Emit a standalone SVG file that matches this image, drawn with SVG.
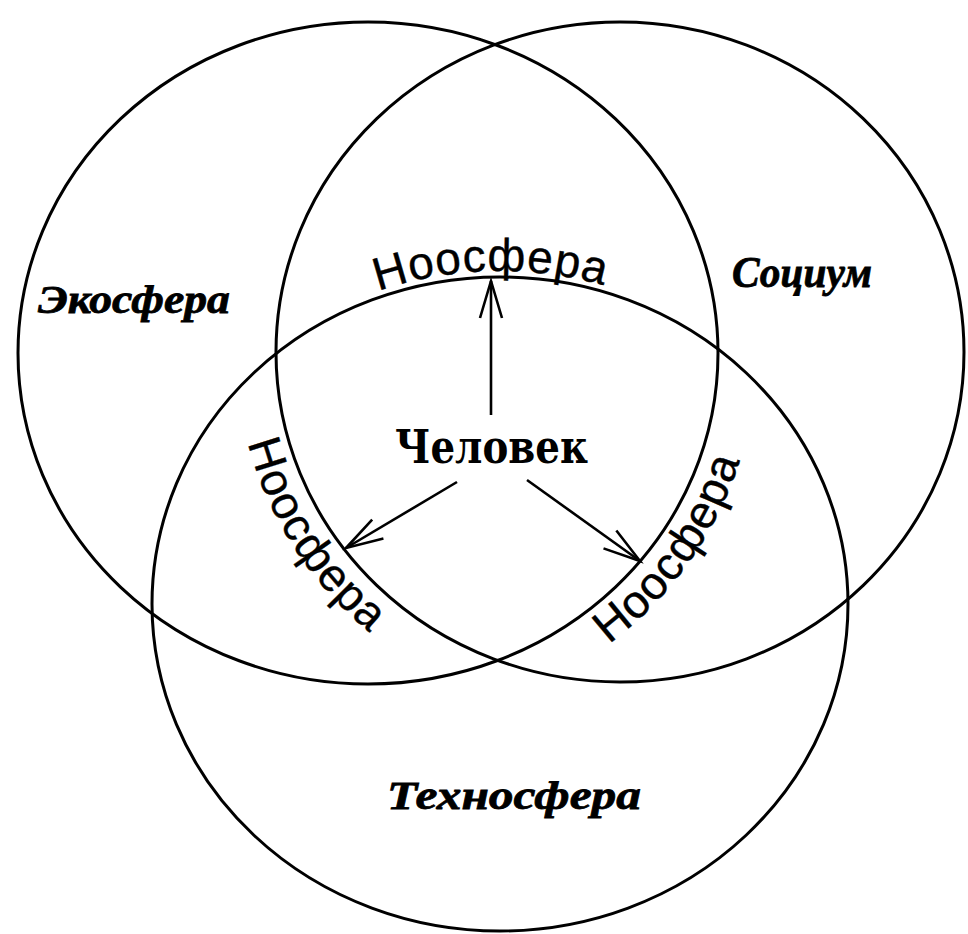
<svg xmlns="http://www.w3.org/2000/svg" xmlns:xlink="http://www.w3.org/1999/xlink" width="968" height="934" viewBox="0 0 968 934">
<style>
.ring{fill:none;stroke:#000;stroke-width:3}
.conn{fill:none;stroke:#000;stroke-width:2.6}
.script{font-family:"Liberation Serif","DejaVu Serif",serif;font-style:italic;font-weight:bold;fill:#000;stroke:#000;stroke-width:0.8}
.noo{font-family:"Liberation Sans","Arial",sans-serif;font-size:46px;fill:#000;letter-spacing:1px;stroke:#000;stroke-width:0.4}
.man{font-family:"DejaVu Serif","Liberation Serif",serif;font-weight:bold;font-size:47px;fill:#000}
</style>
<defs>
<marker id="arr" markerUnits="userSpaceOnUse" orient="auto" markerWidth="60" markerHeight="60" refX="0" refY="0" overflow="visible">
<path d="M-37,-11 L0,0 L-37,11" fill="none" stroke="#000" stroke-width="2.6"/>
</marker>
<path id="pTop" d="M144,604 A356,333 0 0 1 856,604"/>
<path id="pLeft" d="M236,352 A384,370 0 0 0 620,722"/>
<path id="pRight" d="M368,724 A388,369 0 0 0 756,353"/>
</defs>
<rect width="968" height="934" fill="#fff"/>
<g id="ecosphere">
<ellipse class="ring" cx="368" cy="353" rx="350" ry="331"/>
<text class="script" x="38" y="313" font-size="41" textLength="192" lengthAdjust="spacingAndGlyphs">Экосфера</text>
</g>
<g id="socium">
<ellipse class="ring" cx="620" cy="352" rx="344" ry="330"/>
<text class="script" x="732" y="287" font-size="44" textLength="140" lengthAdjust="spacingAndGlyphs">Социум</text>
</g>
<g id="technosphere">
<ellipse class="ring" cx="500" cy="604" rx="348" ry="327"/>
<text class="script" x="387" y="809" font-size="41" textLength="254" lengthAdjust="spacingAndGlyphs">Техносфера</text>
</g>
<g id="chelovek">
<text class="man" x="395" y="463" textLength="193" lengthAdjust="spacingAndGlyphs">Человек</text>
</g>
<g id="noosphere-top">
<text class="noo" text-anchor="middle"><textPath xlink:href="#pTop" href="#pTop" startOffset="532">Ноосфера</textPath></text>
</g>
<g id="noosphere-left">
<text class="noo"><textPath xlink:href="#pLeft" href="#pLeft" startOffset="92">Ноосфера</textPath></text>
</g>
<g id="noosphere-right">
<text class="noo"><textPath xlink:href="#pRight" href="#pRight" startOffset="258">Ноосфера</textPath></text>
</g>
<g id="connectors">
<line class="conn" x1="491" y1="415" x2="491" y2="281" marker-end="url(#arr)"/>
<line class="conn" x1="457" y1="482" x2="346" y2="548" marker-end="url(#arr)"/>
<line class="conn" x1="527" y1="480" x2="640" y2="561" marker-end="url(#arr)"/>
</g>
</svg>
